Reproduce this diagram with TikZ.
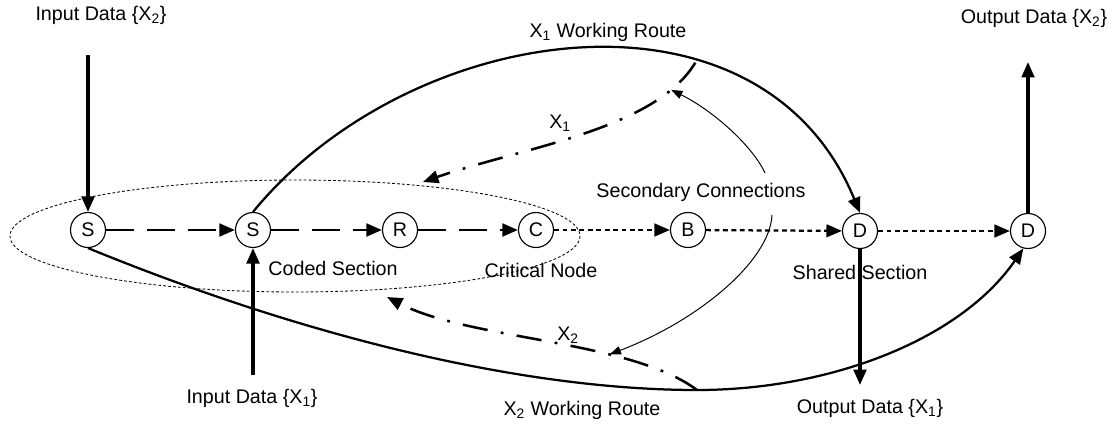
\documentclass[tikz,border=0pt]{standalone}
\usepackage{fontspec}
\setmainfont{Liberation Sans}
\usetikzlibrary{arrows.meta}
\begin{document}
\begin{tikzpicture}[x=0.025cm, y=-0.025cm, font=\fontsize{14}{16}\selectfont]

    \tikzset{
      station/.style={
        draw,
        circle,
        line width=0.8pt,
        minimum size=0.875cm,
        inner sep=0pt,
      },
      bighead/.style={-{Triangle[length=11pt,width=9pt]}},
      datain/.style={bighead, line width=2.2pt},
      coded/.style={bighead, line width=2pt, dash pattern=on 20pt off 9pt},
      shared/.style={bighead, line width=1.6pt, dash pattern=on 3.5pt off 2.5pt},
      route/.style={bighead, line width=1.6pt},
      backup/.style={bighead, line width=1.8pt, dash pattern=on 18pt off 9.5pt on 2pt off 9.5pt},
      secondary/.style={-{Triangle[length=8pt,width=6pt]}, line width=0.7pt},
      zone/.style={draw, line width=0.6pt, dash pattern=on 2pt off 1.5pt},
    }
    \useasboundingbox (0,0) rectangle (1120,428);

    \draw[zone] (295,236) ellipse [x radius=285, y radius=56];

    \node[station] (s1) at (88,230) {S};
    \node[station] (s2) at (253,230) {S};
    \node[station] (r) at (400,230) {R};
    \node[station] (c) at (536,230) {C};
    \node[station] (b) at (688,230) {B};
    \node[station] (d1) at (860,231) {D};
    \node[station] (d2) at (1028,231) {D};

    \node (inxtwo) at (101,15) {Input Data \{X\textsubscript{2}\}};
    \node (outxtwo) at (1034,18) {Output Data \{X\textsubscript{2}\}};
    \node (xoneroute) at (608,32) {X\textsubscript{1} Working Route};
    \node (xone) at (560,123) {X\textsubscript{1}};
    \node (secconn) at (701,192) {Secondary Connections};
    \node (coded) at (333,268) {Coded Section};
    \node (critical) at (541,270) {Critical Node};
    \node (sharedsec) at (860,272) {Shared Section};
    \node (xtwo) at (568,335) {X\textsubscript{2}};
    \node (inxone) at (252,398) {Input Data \{X\textsubscript{1}\}};
    \node (outxone) at (870,408) {Output Data \{X\textsubscript{1}\}};
    \node (xtworoute) at (582,410) {X\textsubscript{2} Working Route};

    \coordinate (inxtwoend) at (88,55);
    \coordinate (inxoneend) at (253,375);
    \coordinate (outxoneend) at (860,385);
    \coordinate (outxtwoend) at (1028,62);
    \coordinate (xoneback) at (423,182);
    \coordinate (xtwoback) at (387,297);
    \coordinate (secup) at (765,173);
    \coordinate (secdown) at (772,215);

    \draw[datain] (inxtwoend) -- (s1);
    \draw[datain] (inxoneend) -- (s2);
    \draw[datain] (d1) -- (outxoneend);
    \draw[datain] (d2) -- (outxtwoend);

    \draw[coded] (s1) -- (s2);
    \draw[coded] (s2) -- (r);
    \draw[coded] (r) -- (c);
    \draw[shared] (c) -- (b);
    \draw[shared] (b) -- (d1);
    \draw[shared] (d1) -- (d2);

    \draw[route] (s2.north) .. controls (410,20) and (760,-30) .. (d1.north) coordinate[pos=0.67] (xonefork);
    \draw[route] (s1.south) .. controls (300,335) and (520,390) .. (697,390) coordinate (xtwofork)
      .. controls (830,390) and (960,340) .. (d2.255);

    \draw[backup] (xonefork) .. controls (655,130) and (520,148) .. (xoneback) coordinate[pos=0.15] (xonehit);
    \draw[backup] (xtwofork) .. controls (630,340) and (470,340) .. (xtwoback) coordinate[pos=0.32] (xtwohit);

    \draw[secondary] (secup) .. controls (752,145) and (712,110) .. (xonehit);
    \draw[secondary] (secdown) .. controls (770,260) and (700,320) .. (xtwohit);

\end{tikzpicture}
\end{document}
